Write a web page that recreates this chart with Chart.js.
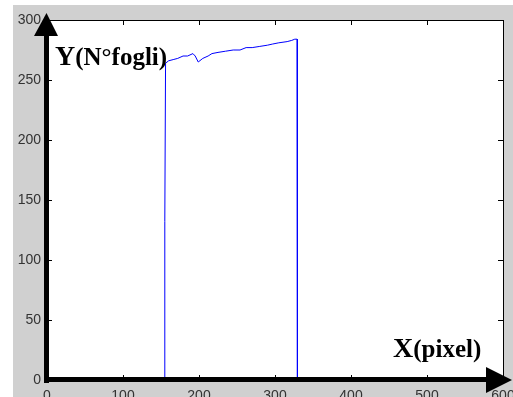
<!DOCTYPE html>
<html lang="it">
<head>
    <meta charset="UTF-8">
    <title>N°fogli per pixel</title>
    <style>
        body { margin: 0; background: #fff; }
        canvas { display: block; }
    </style>
</head>
<body>
    <canvas id="grafico" width="513" height="397"></canvas>

    <script src="https://cdn.jsdelivr.net/npm/chart.js"></script>
    <script>
        // valori
        const pixelX = [0, 155, 155, 156, 160, 166, 172, 179, 185, 192, 195, 199, 205, 212, 217,
            225, 235, 245, 254, 262, 270, 280, 290, 297, 305, 316, 322, 326, 329, 329, 330, 600];
        const fogliY = [0, 0, 132, 264, 266, 267, 268, 270, 270, 272, 270, 265, 268, 270, 272,
            273, 274, 275, 275, 277, 277, 278, 279, 280, 281, 282, 283, 284, 284, 140, 0, 0];
        const ticksX = [0, 100, 200, 300, 400, 500, 600];
        const ticksY = [0, 50, 100, 150, 200, 250, 300];
        const etichettaY = ['Y', '(N°fogli)'];
        const etichettaX = ['X', '(pixel)'];

        const punti = pixelX.map((x, i) => ({ x: x, y: fogliY[i] }));

        // sfondo grigio stile figura matlab
        const sfondo = {
            id: 'sfondo',
            beforeDraw(chart) {
                const ctx = chart.ctx, a = chart.chartArea;
                ctx.save();
                ctx.fillStyle = '#fff';
                ctx.fillRect(0, 0, chart.width, chart.height);
                ctx.fillStyle = '#d0d0d0';
                ctx.fillRect(13, 5, chart.width - 13, chart.height - 5);
                ctx.fillStyle = '#fff';
                ctx.fillRect(a.left, a.top, a.right - a.left, a.bottom - a.top);
                // bordo sopra e destra + tacche interne
                ctx.strokeStyle = '#000';
                ctx.lineWidth = 1;
                ctx.beginPath();
                ctx.moveTo(a.left, a.top + 0.5);
                ctx.lineTo(a.right + 0.5, a.top + 0.5);
                ctx.lineTo(a.right + 0.5, a.bottom);
                const sx = chart.scales.x, sy = chart.scales.y;
                ticksX.forEach(v => {
                    const px = Math.round(sx.getPixelForValue(v)) + 0.5;
                    ctx.moveTo(px, a.top); ctx.lineTo(px, a.top + 5);
                    ctx.moveTo(px, a.bottom); ctx.lineTo(px, a.bottom - 5);
                });
                ticksY.forEach(v => {
                    const py = Math.round(sy.getPixelForValue(v)) + 0.5;
                    ctx.moveTo(a.left, py); ctx.lineTo(a.left + 5, py);
                    ctx.moveTo(a.right, py); ctx.lineTo(a.right - 5, py);
                });
                ctx.stroke();
                ctx.restore();
            }
        };

        // frecce degli assi e scritte
        const frecce = {
            id: 'frecce',
            afterDraw(chart) {
                const ctx = chart.ctx, a = chart.chartArea;
                ctx.save();
                ctx.fillStyle = '#000';
                ctx.fillRect(a.left - 3, a.top + 10, 5, a.bottom - a.top - 7);
                ctx.fillRect(a.left - 3, a.bottom - 3, a.right - a.left - 10, 5);
                ctx.beginPath();
                ctx.moveTo(a.left - 0.5, a.top - 7);
                ctx.lineTo(a.left - 13, a.top + 16);
                ctx.lineTo(a.left + 11, a.top + 16);
                ctx.closePath();
                ctx.fill();
                ctx.beginPath();
                ctx.moveTo(a.right + 9, a.bottom);
                ctx.lineTo(a.right - 17, a.bottom - 13);
                ctx.lineTo(a.right - 17, a.bottom + 13);
                ctx.closePath();
                ctx.fill();

                ctx.textBaseline = 'alphabetic';
                ctx.font = 'bold 28px "Liberation Serif"';
                ctx.fillText(etichettaY[0], 55, 65);
                let w = ctx.measureText(etichettaY[0]).width;
                ctx.font = 'bold 25px "Liberation Serif"';
                ctx.fillText(etichettaY[1], 55 + w, 65);

                ctx.font = 'bold 28px "Liberation Serif"';
                ctx.fillText(etichettaX[0], 393, 357);
                w = ctx.measureText(etichettaX[0]).width;
                ctx.font = 'bold 25px "Liberation Serif"';
                ctx.fillText(etichettaX[1], 393 + w, 357);
                ctx.restore();
            }
        };

        new Chart(document.getElementById('grafico'), {
            type: 'scatter',
            data: {
                datasets: [{
                    data: punti,
                    showLine: true,
                    borderColor: '#0000ff',
                    borderWidth: 1,
                    pointRadius: 0,
                    tension: 0
                }]
            },
            options: {
                responsive: false,
                animation: false,
                events: [],
                layout: { padding: { left: 0, top: 20, right: 10, bottom: 0 } },
                plugins: { legend: { display: false }, tooltip: { enabled: false } },
                scales: {
                    x: {
                        type: 'linear',
                        min: 0, max: 600,
                        afterFit(s) { s.height = 17; s.paddingLeft = 0; s.paddingRight = 0; },
                        afterBuildTicks(s) { s.ticks = ticksX.map(v => ({ value: v })); },
                        grid: { display: false, drawTicks: false },
                        border: { display: false },
                        ticks: { padding: 8, color: '#333', font: { family: 'Liberation Sans', size: 14 }, maxRotation: 0 }
                    },
                    y: {
                        type: 'linear',
                        min: 0, max: 300,
                        afterFit(s) { s.width = 47; s.paddingTop = 0; s.paddingBottom = 0; },
                        afterBuildTicks(s) { s.ticks = ticksY.map(v => ({ value: v })); },
                        grid: { display: false, drawTicks: false },
                        border: { display: false },
                        ticks: { padding: 6, color: '#333', font: { family: 'Liberation Sans', size: 14 } }
                    }
                }
            },
            plugins: [sfondo, frecce]
        });
    </script>
</body>
</html>
